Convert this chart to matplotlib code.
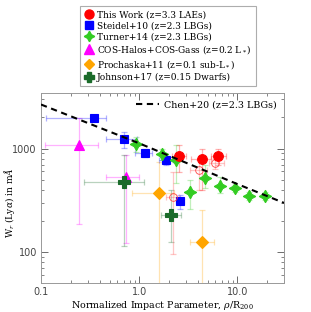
import matplotlib
matplotlib.use("Agg")
import matplotlib.pyplot as plt
from matplotlib.lines import Line2D
import numpy as np

plt.rcParams['font.family'] = ['DejaVu Serif']
plt.rcParams['mathtext.fontset'] = 'dejavuserif'

# ---------------- data ----------------
# This Work (filled)
tw_x = [2.58, 4.35, 6.31]
tw_y = [844, 789, 844]
tw_xlo = [2.19, 3.39, 5.41]
tw_xhi = [3.03, 5.41, 7.67]
tw_ylo = [596, 397, 690]
tw_yhi = [1076, 1000, 1000]
# This Work (open)
two_x = [2.2, 4.05, 6.0]
two_y = [343, 618, 717]
two_xlo = [1.89, 3.27, 5.2]
two_xhi = [2.58, 4.9, 7.4]
two_ylo = [95, 397, 640]
two_yhi = [596, 773, 800]
# Steidel+10
st_x = [0.345, 0.697, 1.14, 1.89, 2.64]
st_y = [1990, 1228, 915, 773, 311]
st_xlo = [0.112, 0.457, 0.90, 1.60, 2.40]
st_xhi = [0.457, 0.944, 1.35, 2.20, 2.90]
st_ylo = [1900, 1007, 830, 700, 259]
st_yhi = [2100, 1435, 1000, 850, 355]
# Turner+14
tu_x = [0.94, 1.70, 2.39, 3.33, 4.73, 6.67, 9.48, 13.2, 19.1]
tu_y = [1100, 881, 773, 383, 515, 434, 412, 348, 348]
tu_ylo = [920, 773, 464, 259, 415, 372, 380, 320, 320]
tu_yhi = [1284, 1000, 1076, 496, 690, 530, 445, 380, 380]
# COS-Halos + COS-Gass
co_x = [0.243, 0.741]
co_y = [1076, 533]
co_xlo = [0.11, 0.457]
co_xhi = [0.38, 0.995]
co_ylo = [186, 122]
co_yhi = [1990, 863]
# Prochaska+11
pr_x = [1.59, 4.37]
pr_y = [374, 126]
pr_xlo = [0.853, 3.31]
pr_xhi = [2.29, 5.85]
pr_ylo = [10, 10]
pr_yhi = [743, 252]
# Johnson+17
jo_x = [0.697, 2.12]
jo_y = [477, 229]
jo_xlo = [0.275, 1.68]
jo_xhi = [1.11, 2.68]
jo_ylo = [113, 125]
jo_yhi = [863, 397]
# Chen+20 relation
ch_x = [0.1, 1.0, 10.0, 30.0]
ch_y = [2670, 1125, 454, 298]

fig = plt.figure(figsize=(3.11, 3.12), dpi=100)
ax = fig.add_axes([41/311, 1-283/312, 243/311, 190/312])

def eb(x, y, xlo, xhi, ylo, yhi, color, marker, ms, mfc=None, zorder=3, mew=0.8):
    x = np.array(x); y = np.array(y)
    xerr = None
    if xlo is not None:
        xerr = [x - np.array(xlo), np.array(xhi) - x]
    yerr = [y - np.array(ylo), np.array(yhi) - y]
    ax.errorbar(x, y, xerr=xerr, yerr=yerr, fmt='none', ecolor=color,
                alpha=0.3, elinewidth=0.9, capsize=2, capthick=0.9, zorder=2)
    ax.plot(x, y, linestyle='none', marker=marker, ms=ms, color=color,
            mfc=mfc if mfc is not None else color, mec=color, mew=mew, zorder=zorder)

star4 = (4, 1, 0)

eb(co_x, co_y, co_xlo, co_xhi, co_ylo, co_yhi, '#ff00ff', '^', 7)
eb(pr_x, pr_y, pr_xlo, pr_xhi, pr_ylo, pr_yhi, '#ffa500', 'D', 6)
eb(jo_x, jo_y, jo_xlo, jo_xhi, jo_ylo, jo_yhi, '#1a6b2a', 'P', 8)
eb(st_x, st_y, st_xlo, st_xhi, st_ylo, st_yhi, '#0000ff', 's', 5.5)
eb(tu_x, tu_y, None, None, tu_ylo, tu_yhi, '#33cc22', star4, 9)
eb(two_x, two_y, two_xlo, two_xhi, two_ylo, two_yhi, '#ff4444', 'o', 5.5, mfc='none', zorder=3, mew=0.6)
eb(tw_x, tw_y, tw_xlo, tw_xhi, tw_ylo, tw_yhi, '#ff0000', 'o', 7)

chen, = ax.plot(ch_x, ch_y, color='black', ls=(0, (3, 2.2)), lw=1.5, zorder=4,
                label='Chen+20 (z=2.3 LBGs)')

ax.set_xscale('log'); ax.set_yscale('log')
ax.set_xlim(0.1, 30)
ax.set_ylim(50, 3450)
ax.set_xticks([0.1, 1, 10])
ax.set_xticklabels(['0.1', '1.0', '10.0'])
ax.set_yticks([100, 1000])
ax.set_yticklabels(['100', '1000'])
for lab in ax.get_xticklabels() + ax.get_yticklabels():
    lab.set_family('DejaVu Sans')
ax.tick_params(which='both', direction='in', top=True, right=True,
               labelsize=7, labelcolor='#444444', color='#555555')
ax.tick_params(which='major', length=5, width=0.6, pad=3)
ax.tick_params(which='minor', length=2.5, width=0.5)
for s in ax.spines.values():
    s.set_color('#999999'); s.set_linewidth(0.7)

ax.set_xlabel(r'Normalized Impact Parameter, $\rho$/R$_{200}$', fontsize=6.8, labelpad=1)
ax.set_ylabel(r'W$_r$ (Ly$\alpha$) in m$\AA$', fontsize=6.5)
ax.yaxis.set_label_coords(-0.1, 0.42)

ax.legend(handles=[chen], loc='upper right', frameon=False, fontsize=6.8,
          handlelength=2.4, borderaxespad=0.35, handletextpad=0.6)

handles = [
    Line2D([], [], ls='none', marker='o', ms=6.5, color='#ff0000', label='This Work (z=3.3 LAEs)'),
    Line2D([], [], ls='none', marker='s', ms=5.5, color='#0000ff', label='Steidel+10 (z=2.3 LBGs)'),
    Line2D([], [], ls='none', marker=star4, ms=7.5, color='#33cc22', label='Turner+14 (z=2.3 LBGs)'),
    Line2D([], [], ls='none', marker='^', ms=6.5, color='#ff00ff', label=r'COS-Halos+COS-Gass (z=0.2 L$_*$)'),
    Line2D([], [], ls='none', marker='D', ms=5, color='#ffa500', label=r'Prochaska+11 (z=0.1 sub-L$_*$)'),
    Line2D([], [], ls='none', marker='P', ms=7.5, color='#1a6b2a', label='Johnson+17 (z=0.15 Dwarfs)'),
]
leg = fig.legend(handles=handles, loc='upper center', bbox_to_anchor=(168/311, 1-6/312),
                 fontsize=6.5, frameon=True, fancybox=False, labelspacing=0.22,
                 handlelength=1.0, handletextpad=0.4, borderpad=0.45, borderaxespad=0)
leg.get_frame().set_edgecolor('#999999')
leg.get_frame().set_linewidth(0.8)

fig.savefig('out.png', dpi=100)
